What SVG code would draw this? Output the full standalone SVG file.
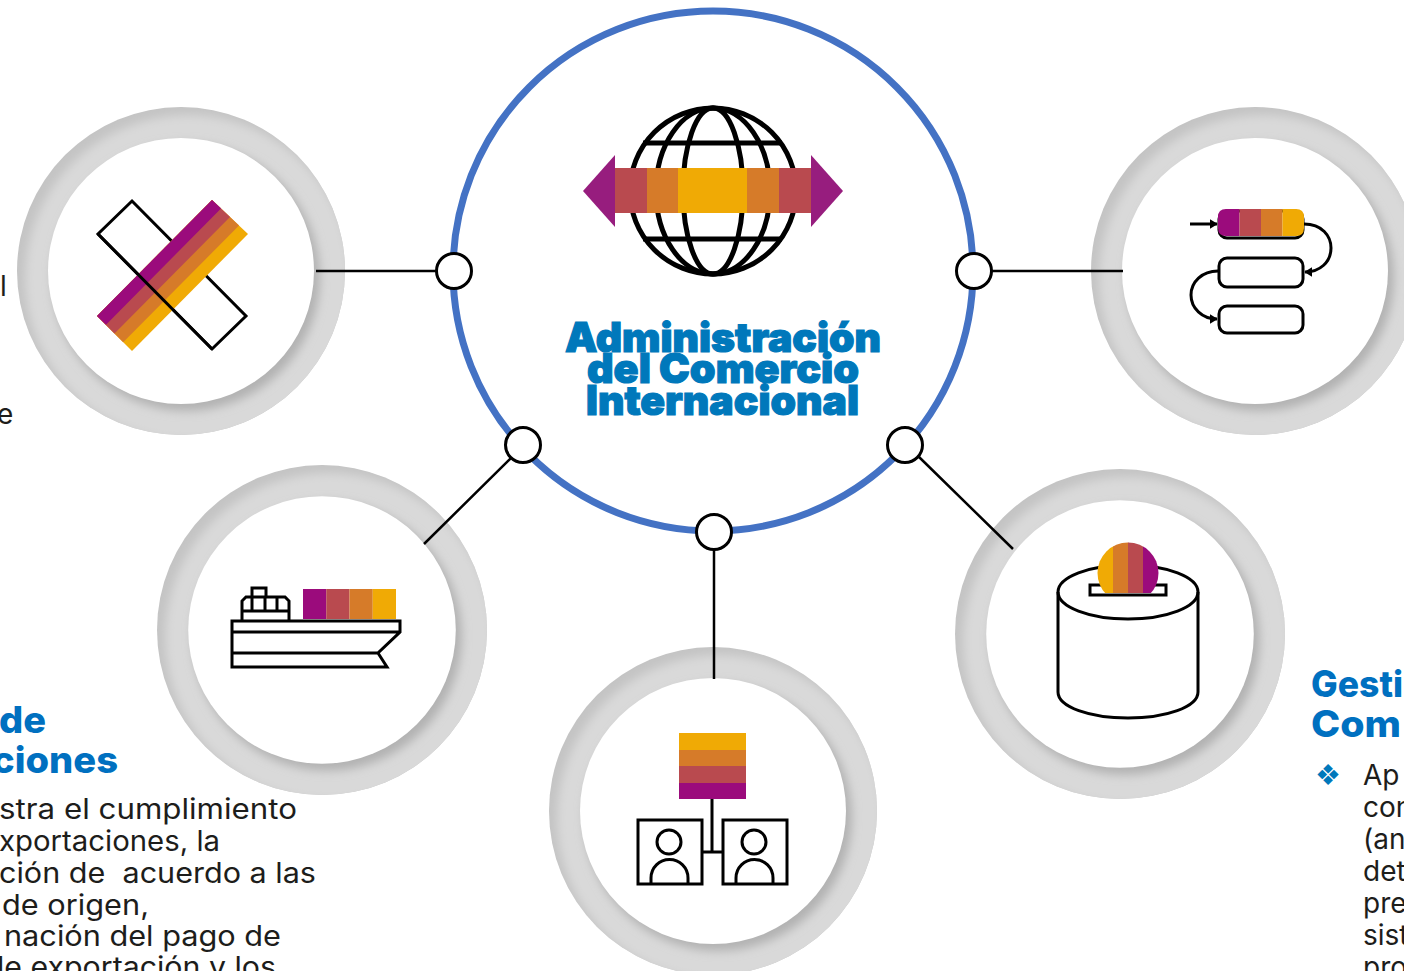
<svg xmlns="http://www.w3.org/2000/svg" width="1404" height="971" viewBox="0 0 1404 971">
<style>
.ln{fill:none;stroke:#000;stroke-width:3;stroke-linejoin:miter}
.p{fill:#9b0b7c}.r{fill:#b94a4f}.o{fill:#d67b29}.y{fill:#f0aa05}
.con{fill:none;stroke:#000;stroke-width:2.5}
.port{fill:#fff;stroke:#000;stroke-width:3}
.t{font-family:Inter,"Liberation Sans",sans-serif;font-size:28px;fill:#1d1d1b;font-weight:400;white-space:pre}
.h{font-family:Inter,"Liberation Sans",sans-serif;font-size:37px;fill:#0070c0;font-weight:800}
.ti{font-family:Inter,"Liberation Sans",sans-serif;font-size:41px;fill:#0078bb;stroke:#0078bb;stroke-width:1.2;font-weight:900}
</style>
<defs>
<clipPath id="rc"><circle r="164"/></clipPath>
<clipPath id="cc"><circle cx="1128" cy="573" r="30.500"/></clipPath>
<filter id="b" x="-20%" y="-20%" width="140%" height="140%"><feGaussianBlur stdDeviation="5"/></filter>
<marker id="ah" viewBox="0 0 5 6" markerWidth="2.600" markerHeight="3.200" refX="4.500" refY="3" orient="auto" markerUnits="strokeWidth"><path d="M0 0L5 3L0 6Z" fill="#000"/></marker>
<g id="ring">
<circle r="164" fill="#c4c4c4"/>
<g clip-path="url(#rc)"><circle cx="7" cy="7" r="163" fill="#d9d9d9" filter="url(#b)"/>
<circle cx="5" cy="6" r="134" fill="#b2b2b2" filter="url(#b)"/></g>
<circle r="133" fill="#fff"/>
</g>
</defs>

<g id="node-tl">
<use href="#ring" x="181" y="271"/>
<polygon points="132,201 246,316 212,349 98,234" fill="#fff" class="ln"/>
<polygon class="y" points="212,200 248,234 132,351 97,316"/>
<polygon class="o" points="212,200 239,225.500 123.200,342.300 97,316"/>
<polygon class="r" points="212,200 230,217 114.500,333.500 97,316"/>
<polygon class="p" points="212,200 221,208.500 106,324.700 97,316"/>
<path class="ln" d="M98 234L212 349"/>
</g>

<g id="node-tr">
<use href="#ring" x="1255" y="271"/>
<rect class="ln" x="1219" y="211" width="84" height="27" rx="8"/>
<path class="p" d="M1226 209H1239.500V236H1226Q1218 236 1218 228V217Q1218 209 1226 209Z"/>
<rect class="r" x="1239.500" y="209" width="21.500" height="27"/>
<rect class="o" x="1261" y="209" width="21.500" height="27"/>
<path class="y" d="M1282.500 209H1296Q1304 209 1304 217V228Q1304 236 1296 236H1282.500Z"/>
<rect class="ln" x="1219" y="258" width="84" height="29" rx="8"/>
<rect class="ln" x="1219" y="306" width="84" height="27" rx="8"/>
<path class="ln" d="M1190 224H1217" marker-end="url(#ah)"/>
<path class="ln" d="M1304 224C1322 224 1331 236 1331 248C1331 262 1320 272 1305 272" marker-end="url(#ah)"/>
<path class="ln" d="M1218 271C1202 271 1191 282 1191 295C1191 308 1202 319 1217 319" marker-end="url(#ah)"/>
</g>

<g id="node-bl">
<use href="#ring" transform="translate(322 630) scale(1.006)"/>
<rect class="p" x="303" y="589" width="23.250" height="30"/>
<rect class="r" x="326.250" y="589" width="23.250" height="30"/>
<rect class="o" x="349.500" y="589" width="23.250" height="30"/>
<rect class="y" x="372.750" y="589" width="23.250" height="30"/>
<path class="ln" d="M232 621H400V632L378 653L387 667H232ZM232 632H400M232 653H378"/>
<path class="ln" d="M242 620V601L246 597H285L289 601V620M242 611H289M252 611V597M265 611V597M277 611V597M252 597V588H266V597"/>
</g>

<g id="node-bc">
<use href="#ring" x="713" y="811"/>
<rect class="y" x="679" y="733" width="67" height="17"/>
<rect class="o" x="679" y="750" width="67" height="16"/>
<rect class="r" x="679" y="766" width="67" height="17"/>
<rect class="p" x="679" y="783" width="67" height="16"/>
<path class="ln" d="M712 799V852M702 852H723"/>
<rect class="ln" x="638" y="820" width="64" height="64"/>
<rect class="ln" x="723" y="820" width="64" height="64"/>
<circle class="ln" cx="669" cy="842" r="12"/>
<circle class="ln" cx="754" cy="842" r="12"/>
<path class="ln" d="M651 884V878A18 18 0 0 1 688 878V884"/>
<path class="ln" d="M736 884V878A18 18 0 0 1 773 878V884"/>
</g>

<g id="node-br">
<use href="#ring" transform="translate(1120 634) scale(1.006)"/>
<ellipse class="ln" cx="1128" cy="592" rx="70" ry="27"/>
<path class="ln" d="M1058 592V692C1058 707 1090 718 1128 718C1166 718 1198 707 1198 692V592"/>
<rect class="ln" x="1090" y="585" width="76" height="10"/>
<g clip-path="url(#cc)">
<rect class="y" x="1097" y="540" width="16.500" height="53"/>
<rect class="o" x="1113" y="540" width="15.500" height="53"/>
<rect class="r" x="1128" y="540" width="15.500" height="53"/>
<rect class="p" x="1143" y="540" width="16" height="53"/>
</g>
</g>

<g id="node-center">
<circle cx="713" cy="271" r="260" fill="#fff" stroke="#4472c4" stroke-width="7"/>
<g fill="none" stroke="#000" stroke-width="5">
<circle cx="713" cy="191" r="83"/>
<ellipse cx="713" cy="191" rx="57" ry="83"/>
<ellipse cx="713" cy="191" rx="30" ry="83"/>
<path d="M643 143H782M643 239H782"/>
</g>
<rect class="r" x="615" y="168" width="32.500" height="45"/>
<rect class="o" x="647" y="168" width="31.500" height="45"/>
<rect class="y" x="678" y="168" width="69.500" height="45"/>
<rect class="o" x="747" y="168" width="32.500" height="45"/>
<rect class="r" x="779" y="168" width="32" height="45"/>
<polygon fill="#971d7e" points="615,155 583,191 615,227"/>
<polygon fill="#971d7e" points="811,155 843,191 811,227"/>
<text class="ti" x="565" y="352" textLength="316" lengthAdjust="spacingAndGlyphs">Administración</text>
<text class="ti" x="587" y="383" textLength="272" lengthAdjust="spacingAndGlyphs">del Comercio</text>
<text class="ti" x="586" y="415" textLength="273" lengthAdjust="spacingAndGlyphs">Internacional</text>
</g>

<g id="connectors">
<path class="con" d="M316 271H436M992 271H1123M511 458L424 544M918 456L1013 549M714 550V679"/>
<circle class="port" cx="454" cy="271" r="17.500"/>
<circle class="port" cx="974" cy="271" r="17.500"/>
<circle class="port" cx="523" cy="445" r="17.500"/>
<circle class="port" cx="905" cy="445" r="17.500"/>
<circle class="port" cx="714" cy="532" r="17.500"/>
</g>

<g id="text-left">
<text class="t" x="0" y="296">l</text>
<text class="t" x="-3" y="424">e</text>
<text class="h" x="-1" y="733" textLength="47" lengthAdjust="spacingAndGlyphs">de</text>
<text class="h" x="-8" y="773" textLength="126" lengthAdjust="spacingAndGlyphs">ciones</text>
<text class="t" x="-1" y="819" textLength="298" lengthAdjust="spacingAndGlyphs">stra el cumplimiento</text>
<text class="t" x="-1" y="851" textLength="221" lengthAdjust="spacingAndGlyphs">xportaciones, la</text>
<text class="t" x="-1" y="883" textLength="317" lengthAdjust="spacingAndGlyphs">ción de  acuerdo a las</text>
<text class="t" x="2" y="915" textLength="147" lengthAdjust="spacingAndGlyphs">de origen,</text>
<text class="t" x="4" y="946" textLength="277" lengthAdjust="spacingAndGlyphs">nación del pago de</text>
<text class="t" x="-3" y="977" textLength="279" lengthAdjust="spacingAndGlyphs">le exportación y los</text>
</g>

<g id="text-right">
<text class="h" x="1311" y="697" textLength="92" lengthAdjust="spacingAndGlyphs">Gesti</text>
<text class="h" x="1311" y="737" textLength="90" lengthAdjust="spacingAndGlyphs">Com</text>
<text x="1328" y="785" text-anchor="middle" font-family="DejaVu Sans, sans-serif" font-size="29" fill="#0078bb">❖</text>
<text class="t" x="1363" y="785">Ap</text>
<text class="t" x="1363" y="817">con</text>
<text class="t" x="1363" y="849">(an</text>
<text class="t" x="1363" y="881">det</text>
<text class="t" x="1363" y="913">pre</text>
<text class="t" x="1363" y="945">sist</text>
<text class="t" x="1363" y="977">pro</text>
</g>
</svg>
